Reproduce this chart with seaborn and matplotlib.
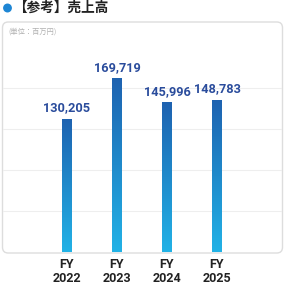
import numpy as np
import pandas as pd
import matplotlib
matplotlib.use("Agg")
import matplotlib.pyplot as plt
import seaborn as sns
from matplotlib.colors import LinearSegmentedColormap
from matplotlib.patches import FancyBboxPatch, Circle

categories = ["FY\n2022", "FY\n2023", "FY\n2024", "FY\n2025"]
sales = [130205, 169719, 145996, 148783]
value_labels = ["130,205", "169,719", "145,996", "148,783"]
title = "【参考】売上高"
unit = "(単位：百万円)"

sns.set_theme(style="white")
plt.rcParams['font.family'] = ['Roboto', 'Noto Sans CJK JP', 'DejaVu Sans']

fig = plt.figure(figsize=(2.85, 2.89), dpi=100)
W, H = 285, 289
# rounded box
box = FancyBboxPatch((2.5 / W, (H - 253) / H), 280 / W, 231 / H,
                     boxstyle="round,pad=0,rounding_size=0.02",
                     transform=fig.transFigure, facecolor="white",
                     edgecolor="#dddddd", linewidth=1.0, zorder=-5)
fig.patches.append(box)

ax = fig.add_axes([3 / W, (H - 252.3) / H, 279 / W, 230 / H])
ax.set_facecolor("none")
ax.set_zorder(2)

df = pd.DataFrame({"cat": categories, "sales": sales})
sns.barplot(data=df, x="cat", y="sales", ax=ax, width=0.2, color="#1d6fc0",
            zorder=3)

cmap = LinearSegmentedColormap.from_list("g", ["#22b2e6", "#1e62b0"])
grad = np.linspace(0, 1, 256).reshape(-1, 1)
for p in list(ax.patches):
    x, w, h = p.get_x(), p.get_width(), p.get_height()
    im = ax.imshow(grad, extent=[x, x + w, 0, h], origin="lower",
                   aspect="auto", cmap=cmap, zorder=4)
    im.set_clip_path(p)
    p.set_facecolor("none")
    p.set_edgecolor("none")

for i, (v, lab) in enumerate(zip(sales, value_labels)):
    ax.annotate(lab, (i, v), xytext=(0, 3), textcoords="offset points",
                ha="center", va="bottom", fontsize=9.2, fontweight="bold",
                color="#2a4c9c", zorder=5)

ax.set_xlim(-1.28, 4.3)
ax.set_ylim(0, 224000)
ax.set_yticks([40000, 80000, 120000, 160000])
ax.set_yticklabels([])
ax.yaxis.grid(True, color="#eeeeee", linewidth=0.8, zorder=0)
ax.set_axisbelow(True)
for s in ax.spines.values():
    s.set_visible(False)
ax.set_xlabel("")
ax.set_ylabel("")
ax.tick_params(axis="x", length=0, pad=4)
ax.tick_params(axis="y", length=0)
for t in ax.get_xticklabels():
    t.set_fontsize(9)
    t.set_fontweight("bold")
    t.set_color("#222222")
    t.set_linespacing(1.15)

# title
fig.patches.append(Circle((7.5 / W, (H - 8) / H), 0.0155, transform=fig.transFigure,
                          facecolor="#1e86d4", edgecolor="none"))
fig.text(13 / W, (H - 8) / H, title, fontsize=9.8, fontweight="bold",
         color="#222222", va="center", ha="left",
         family=['Noto Sans CJK JP', 'DejaVu Sans'])
fig.text(8 / W, (H - 32) / H, unit, fontsize=5.2, color="#b0b0b0",
         va="center", ha="left", family=['Noto Sans CJK JP', 'DejaVu Sans'])

fig.savefig("out.png", dpi=100, facecolor="white")
